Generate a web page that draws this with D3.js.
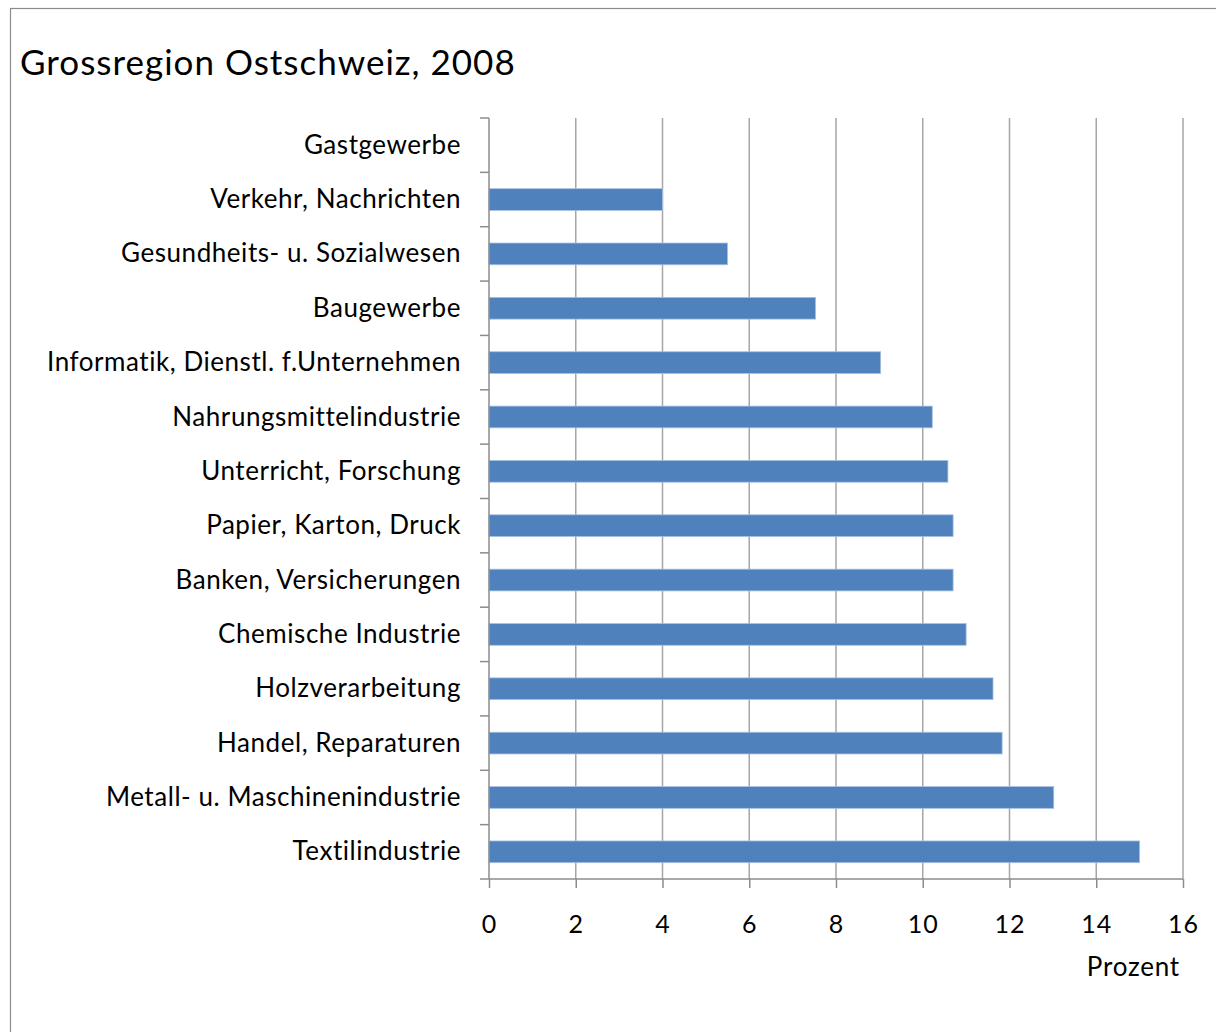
<!DOCTYPE html>
<html>
<head>
<meta charset="utf-8">
<script src="https://cdn.jsdelivr.net/npm/d3@7"></script>
<style>
  html, body { margin: 0; padding: 0; background: #fff; }
  svg { display: block; }
  text { font-family: Lato, "Open Sans", sans-serif; fill: #000; }
</style>
</head>
<body>
<svg id="chart" width="1216" height="1032"></svg>
<script>
const categories = [
  "Gastgewerbe",
  "Verkehr, Nachrichten",
  "Gesundheits- u. Sozialwesen",
  "Baugewerbe",
  "Informatik, Dienstl. f.Unternehmen",
  "Nahrungsmittelindustrie",
  "Unterricht, Forschung",
  "Papier, Karton, Druck",
  "Banken, Versicherungen",
  "Chemische Industrie",
  "Holzverarbeitung",
  "Handel, Reparaturen",
  "Metall- u. Maschinenindustrie",
  "Textilindustrie"
];
const values = [null, 4.0, 5.5, 7.53, 9.03, 10.22, 10.58, 10.7, 10.7, 11.0, 11.62, 11.83, 13.02, 15.0];
const xTicks = [0, 2, 4, 6, 8, 10, 12, 14, 16];
const titleText = "Grossregion Ostschweiz, 2008";
const xAxisTitle = "Prozent";

const svg = d3.select("#chart");
const mLeft = 489, mRight = 1183, mTop = 118, mBottom = 879;

// frame
svg.append("rect")
  .attr("x", 10.5).attr("y", 8.5).attr("width", 1300).attr("height", 1100)
  .attr("fill", "none").attr("stroke", "#8c8c8c").attr("stroke-width", 1.2);

svg.append("text")
  .attr("x", 20).attr("y", 75)
  .attr("font-size", 35)
  .attr("letter-spacing", 1)
  .text(titleText);

const x = d3.scaleLinear().domain([0, 16]).range([mLeft, mRight]);
const yBand = d3.scaleBand().domain(categories).range([mTop, mBottom]).padding(0);
const yBar = d3.scaleBand().domain(categories).range([mTop, mBottom])
  .paddingInner(0.6).paddingOuter(0.3);

// gridlines
svg.append("g").selectAll("line")
  .data(xTicks.filter(d => d > 0))
  .join("line")
  .attr("x1", d => x(d)).attr("x2", d => x(d))
  .attr("y1", mTop).attr("y2", mBottom)
  .attr("stroke", "#a6a6a6").attr("stroke-width", 1.5);

// bars
svg.append("g").selectAll("rect")
  .data(categories.map((c, i) => ({ c, v: values[i] })).filter(d => d.v != null))
  .join("rect")
  .attr("x", x(0))
  .attr("y", d => yBar(d.c))
  .attr("width", d => x(d.v) - x(0))
  .attr("height", yBar.bandwidth())
  .attr("fill", "#4f81bd")
  .attr("stroke", "#a9c1e0").attr("stroke-width", 0.8);

// y axis (category axis) with ticks at band boundaries
const boundaries = categories.map(c => yBand(c)).concat([mBottom]);
const yAxisG = svg.append("g");
yAxisG.append("line")
  .attr("x1", mLeft).attr("x2", mLeft).attr("y1", mTop).attr("y2", mBottom)
  .attr("stroke", "#8c8c8c").attr("stroke-width", 1.5);
yAxisG.selectAll("line.tick")
  .data(boundaries)
  .join("line").attr("class", "tick")
  .attr("x1", mLeft - 9).attr("x2", mLeft)
  .attr("y1", d => d).attr("y2", d => d)
  .attr("stroke", "#8c8c8c").attr("stroke-width", 1.5);
yAxisG.selectAll("text")
  .data(categories)
  .join("text")
  .attr("x", 461)
  .attr("y", d => yBand(d) + yBand.bandwidth() / 2)
  .attr("dy", "0.33em")
  .attr("text-anchor", "end")
  .attr("font-size", 26)
  .attr("letter-spacing", 0.55)
  .text(d => d);

// x axis
const xAxis = d3.axisBottom(x).tickValues(xTicks).tickSize(9).tickPadding(27)
  .tickFormat(d3.format("d"));
const xg = svg.append("g").attr("transform", `translate(0,${mBottom})`).call(xAxis);
xg.select(".domain").attr("stroke", "#8c8c8c").attr("stroke-width", 1.5)
  .attr("d", `M${mLeft},0H${mRight}`);
xg.selectAll(".tick line").attr("stroke", "#8c8c8c").attr("stroke-width", 1.5);
xg.selectAll(".tick text")
  .attr("font-size", 25)
  .attr("letter-spacing", 1)
  .attr("font-family", "Lato, 'Open Sans', sans-serif")
  .attr("fill", "#000");

svg.append("text")
  .attr("x", 1180).attr("y", 976)
  .attr("text-anchor", "end")
  .attr("font-size", 26)
  .attr("letter-spacing", 0.8)
  .text(xAxisTitle);
</script>
</body>
</html>
